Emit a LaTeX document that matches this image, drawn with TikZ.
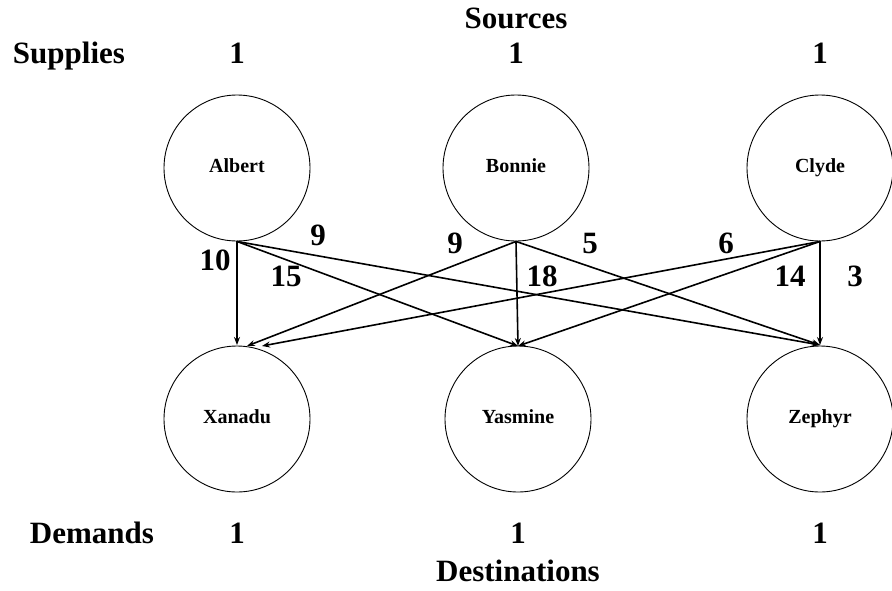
\documentclass[tikz,border=0pt]{standalone}
\usepackage{fontspec}
\setmainfont{Liberation Serif}
\usetikzlibrary{arrows.meta}
\begin{document}
\begin{tikzpicture}[x=1pt,y=-1pt,
  place/.style={draw,line width=0.9pt,circle,minimum size=146pt,inner sep=0pt,font=\bfseries\fontsize{20}{24}\selectfont},
  big/.style={font=\bfseries\fontsize{31}{36}\selectfont,inner sep=0pt,anchor=base},
  cost/.style={font=\bfseries\fontsize{31}{36}\selectfont,inner sep=0pt,anchor=base},
  flow/.style={line width=1.6pt,-{Stealth[length=8pt,width=6pt]}}]
\useasboundingbox (0,0) rectangle (892,590);
\node[place] (A) at (237,168) {Albert\vphantom{y}};
\node[place] (B) at (516,168) {Bonnie\vphantom{y}};
\node[place] (C) at (820,168) {Clyde};
\node[place] (X) at (237,419) {Xanadu\vphantom{y}};
\node[place] (Y) at (518,419) {Yasmine\vphantom{y}};
\node[place] (Z) at (820,419) {Zephyr};
\node[big] (src) at (516,28) {Sources};
\node[big] (sup) at (69,63) {Supplies};
\node[big] (s1) at (237,63) {1};
\node[big] (s2) at (516,63) {1};
\node[big] (s3) at (820,63) {1};
\node[big] (dem) at (92,543) {Demands};
\node[big] (d1) at (237,543) {1};
\node[big] (d2) at (518,543) {1};
\node[big] (d3) at (820,543) {1};
\node[big] (dst) at (518,581) {Destinations};
\coordinate (Ao) at (A.south);
\coordinate (Bo) at (B.south);
\coordinate (Co) at (C.south);
\coordinate (Xa) at (237,345);
\coordinate (Xb) at (247,346);
\coordinate (Xc) at (262,346);
\coordinate (Yi) at (518,346);
\coordinate (Zi) at (820,345);
\draw[flow] (Ao) -- (Xa);
\draw[flow] (Ao) -- (Yi);
\draw[flow] (Ao) -- (Zi);
\draw[flow] (Bo) -- (Xb);
\draw[flow] (Bo) -- (Yi);
\draw[flow] (Bo) -- (Zi);
\draw[flow] (Co) -- (Xc);
\draw[flow] (Co) -- (Yi);
\draw[flow] (Co) -- (Zi);
\node[cost] (c1) at (215,270) {10};
\node[cost] (c2) at (318,245) {9};
\node[cost] (c3) at (286,286) {15};
\node[cost] (c4) at (455,253) {9};
\node[cost] (c5) at (542,286) {18};
\node[cost] (c6) at (590,253) {5};
\node[cost] (c7) at (726,253) {6};
\node[cost] (c8) at (790,286) {14};
\node[cost] (c9) at (855,286) {3};
\end{tikzpicture}
\end{document}
